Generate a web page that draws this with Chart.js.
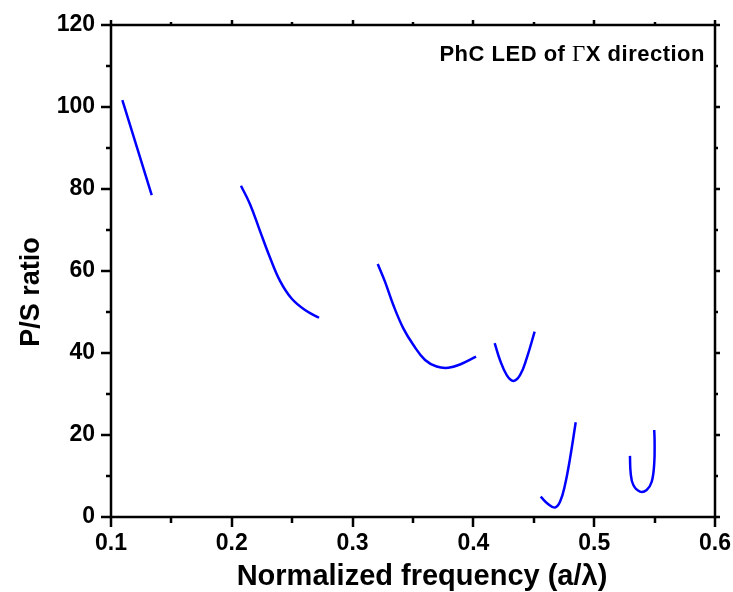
<!DOCTYPE html>
<html>
<head>
<meta charset="utf-8">
<script src="https://cdn.jsdelivr.net/npm/chart.js@4"></script>
<style>
html,body{margin:0;padding:0;background:#fff;}
#wrap{width:733px;height:592px;position:relative;}
</style>
</head>
<body>
<div id="wrap"><canvas id="c" width="733" height="592"></canvas></div>
<script>
// Data (normalized frequency a/λ, P/S ratio)
const freq1 = [0.1094, 0.1337];
const ratio1 = [101.7, 78.5];
const freq2 = [0.2076, 0.2151, 0.2233, 0.2316, 0.2399, 0.2495, 0.2606, 0.2722];
const ratio2 = [80.8, 76.3, 69.8, 63.3, 57.6, 53.3, 50.5, 48.6];
const freq3 = [0.3208, 0.3268, 0.3337, 0.3420, 0.3502, 0.3600, 0.3696, 0.3792, 0.3889, 0.4022];
const ratio3 = [61.7, 57.4, 51.7, 46.0, 42.0, 38.3, 36.7, 36.4, 37.2, 39.1];
const freq4 = [0.4176, 0.4220, 0.4276, 0.4330, 0.4386, 0.4441, 0.4507];
const ratio4 = [42.4, 38.3, 34.6, 33.2, 34.6, 38.7, 45.2];
const freq5 = [0.4557, 0.4620, 0.4675, 0.4717, 0.4758, 0.4800, 0.4847];
const ratio5 = [4.95, 3.1, 2.3, 3.7, 7.8, 14.3, 23.1];
const freq6 = [0.5296, 0.5302, 0.5324, 0.5379, 0.5434, 0.5476, 0.5497, 0.5500, 0.5497];
const ratio6 = [14.9, 10.7, 7.8, 6.2, 6.6, 8.6, 13.1, 18.4, 21.2];

const xTicks = [0.1, 0.2, 0.3, 0.4, 0.5, 0.6];
const yTicks = [0, 20, 40, 60, 80, 100, 120];
const xTitle = 'Normalized frequency (a/\u03BB)';
const yTitle = 'P/S ratio';
const note = ['PhC LED of ', '\u0393', 'X direction'];

const segments = [[freq1, ratio1], [freq2, ratio2], [freq3, ratio3], [freq4, ratio4], [freq5, ratio5], [freq6, ratio6]];
const datasets = segments.map(([fx, fy]) => ({
  data: fx.map((x, i) => ({x: x, y: fy[i]})),
  borderColor: '#0000ff',
  borderWidth: 2.5,
  pointRadius: 0,
  tension: 0.4,
  fill: false
}));

const SANS = '"Liberation Sans", Arial, sans-serif';

const framePlugin = {
  id: 'frame',
  afterDraw(chart) {
    const ctx = chart.ctx;
    const xs = chart.scales.x, ys = chart.scales.y;
    const a = chart.chartArea;
    ctx.save();
    ctx.strokeStyle = '#000';
    ctx.lineWidth = 2.5;
    ctx.lineCap = 'butt';
    ctx.strokeRect(a.left, a.top, a.right - a.left, a.bottom - a.top);
    for (let i = 0; i <= 10; i++) {
      const v = xs.min + i * (xs.max - xs.min) / 10;
      const px = Math.round(xs.getPixelForValue(v));
      const major = i % 2 === 0;
      ctx.beginPath();
      ctx.moveTo(px, a.bottom);
      ctx.lineTo(px, a.bottom + (major ? 10 : 6));
      ctx.moveTo(px, a.top);
      ctx.lineTo(px, a.top - (major ? 5 : 3));
      ctx.stroke();
    }
    for (let i = 0; i <= 12; i++) {
      const v = ys.min + i * (ys.max - ys.min) / 12;
      const py = Math.round(ys.getPixelForValue(v));
      const major = i % 2 === 0;
      ctx.beginPath();
      ctx.moveTo(a.left, py);
      ctx.lineTo(a.left - (major ? 10 : 5), py);
      ctx.moveTo(a.right, py);
      ctx.lineTo(a.right + (major ? 5 : 3), py);
      ctx.stroke();
    }
    ctx.fillStyle = '#000';
    // axis titles
    ctx.textAlign = 'center';
    ctx.textBaseline = 'alphabetic';
    ctx.font = 'bold 29px ' + SANS;
    ctx.fillText(xTitle, 422, 585);
    ctx.save();
    ctx.translate(39, 292);
    ctx.rotate(-Math.PI / 2);
    ctx.font = 'bold 27px ' + SANS;
    ctx.fillText(yTitle, 0, 0);
    ctx.restore();
    // annotation
    ctx.textAlign = 'left';
    try { ctx.letterSpacing = '0.5px'; } catch (e) {}
    const fSans = 'bold 22px ' + SANS;
    const fSerif = '23px "Liberation Serif", "Times New Roman", serif';
    ctx.font = fSans; const w0 = ctx.measureText(note[0]).width; const w2 = ctx.measureText(note[2]).width;
    ctx.font = fSerif; const w1 = ctx.measureText(note[1]).width;
    let x = 705 - (w0 + w1 + w2);
    const y = 61;
    ctx.font = fSans; ctx.fillText(note[0], x, y); x += w0;
    ctx.font = fSerif; ctx.fillText(note[1], x, y); x += w1;
    ctx.font = fSans; ctx.fillText(note[2], x, y);
    ctx.restore();
  }
};

new Chart(document.getElementById('c'), {
  type: 'line',
  data: { datasets: datasets },
  plugins: [framePlugin],
  options: {
    responsive: false,
    animation: false,
    layout: { padding: { top: 25, right: 18, left: 0, bottom: 0 } },
    plugins: { legend: { display: false }, tooltip: { enabled: false }, title: { display: false } },
    scales: {
      x: {
        type: 'linear', min: 0.1, max: 0.6,
        afterBuildTicks(s) { s.ticks = xTicks.map(v => ({value: v})); },
        afterFit(s) { s.height = 75; s.paddingLeft = 0; s.paddingRight = 0; },
        grid: { display: false },
        border: { display: false },
        ticks: {
          color: '#000', padding: 5,
          font: { family: SANS, size: 23, weight: 'bold' },
          callback: v => v.toFixed(1), maxRotation: 0
        },
        title: { display: false }
      },
      y: {
        type: 'linear', min: 0, max: 120,
        afterBuildTicks(s) { s.ticks = yTicks.map(v => ({value: v})); },
        afterFit(s) { s.width = 111; s.paddingTop = 0; s.paddingBottom = 0; },
        grid: { display: false },
        border: { display: false },
        ticks: {
          color: '#000', padding: 8,
          font: { family: SANS, size: 23, weight: 'bold' }
        },
        title: { display: false }
      }
    }
  }
});
</script>
</body>
</html>
